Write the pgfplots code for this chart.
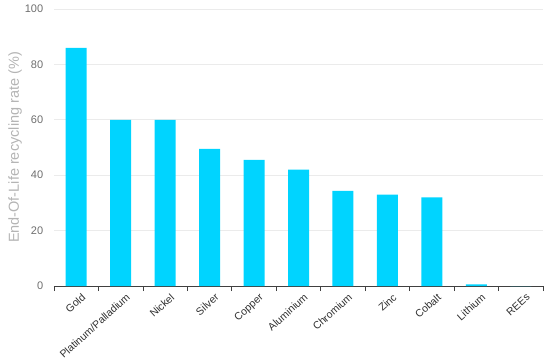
\documentclass[border=0pt]{standalone}
\usepackage{pgfplots}
\pgfplotsset{compat=1.18}
\usepackage{fontspec}
\setmainfont{Liberation Sans}
\definecolor{barc}{HTML}{00D4FF}
\definecolor{ytick}{HTML}{6E6E6E}
\definecolor{ylab}{HTML}{B4B4B4}
\definecolor{xtick}{HTML}{303030}
\begin{document}
\begin{tikzpicture}
\begin{axis}[
  scale only axis,
  width=489pt, height=277pt,
  xmin=-0.5, xmax=10.5, ymin=0, ymax=100,
  axis x line=bottom, axis y line=left,
  axis line style={-},
  y axis line style={draw=none},
  x axis line style={draw=black!75, line width=0.8pt},
  ytick={0,20,40,60,80,100},
  ytick style={draw=none},
  yticklabel style={font=\fontsize{11}{13}\selectfont, text=ytick, xshift=-3pt},
  /pgf/number format/assume math mode=true,
  xtick={0,...,10},
  xticklabels={Gold,Platinum/Palladium,Nickel,Silver,Copper,Aluminium,Chromium,Zinc,Cobalt,Lithium,REEs},
  major x tick style={draw=none},
  minor xtick={-0.5,0.5,...,10.5},
  minor x tick style={draw=black!75, line width=0.8pt},
  minor tick length=5pt,
  tick align=outside,
  xticklabel style={rotate=42, anchor=north east, font=\fontsize{10.5}{12}\selectfont, text=xtick, inner sep=1pt, xshift=3pt, yshift=-4pt},
  ymajorgrids,
  grid style={draw=black!8, line width=0.6pt},
  ylabel={End-Of-Life recycling rate (\%)},
  ylabel style={font=\fontsize{14.5}{16}\selectfont, text=ylab},
  ylabel shift=-4pt,
  ybar, bar width=21pt,
]
\addplot[fill=barc, draw=none] coordinates {
(0,86) (1,60) (2,60) (3,49.5) (4,45.5) (5,42) (6,34.3) (7,33) (8,32) (9,0.6) (10,0)
};
\end{axis}
\path (current axis.north east) ++(7pt,9pt);
\path (current axis.south west) ++(-54pt,-73pt);
\end{tikzpicture}
\end{document}
